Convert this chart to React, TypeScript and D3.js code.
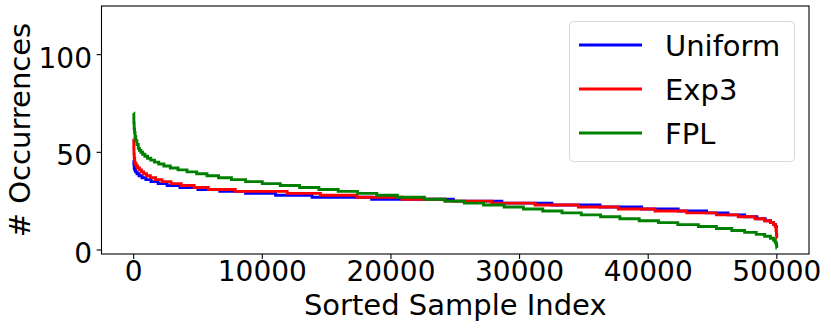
import React, { useEffect, useRef } from 'react';
import * as d3 from 'd3';

// [start index, occurrence count]
const uniformSteps: [number, number][] = [
  [0, 46], [15, 44], [40, 42], [80, 41], [150, 40], [260, 39], [420, 38], [650, 37],
  [950, 36], [1350, 35], [1900, 34], [2600, 33], [3600, 32], [5000, 31], [6700, 30],
  [8700, 29], [11030, 28], [13870, 27], [18500, 26], [24850, 25], [28620, 24],
  [32510, 23], [36250, 22], [39490, 21], [42330, 20], [44540, 19], [46200, 18],
  [47500, 17], [48450, 16], [49100, 15], [49500, 14], [49750, 13], [49900, 12], [49970, 11],
];

const exp3Steps: [number, number][] = [
  [0, 57], [10, 52], [25, 49], [45, 47], [80, 45], [120, 44], [200, 43], [300, 42],
  [450, 41], [600, 40], [780, 39], [1000, 38], [1300, 37], [1700, 36], [2200, 35],
  [2900, 34], [3700, 33], [4700, 32], [5800, 31], [7900, 30], [11930, 29], [14520, 28],
  [17370, 27], [20860, 26], [24200, 25], [27850, 24], [31210, 23], [34570, 22],
  [37680, 21], [40530, 20], [43000, 19], [45300, 18], [47000, 17], [48300, 16],
  [49050, 15], [49500, 14], [49750, 13], [49880, 12], [49940, 10], [49970, 8], [49990, 6],
];

const fplSteps: [number, number][] = [
  [0, 70], [15, 65], [40, 62], [70, 60], [110, 58], [170, 56], [250, 54], [360, 52],
  [450, 51], [560, 50], [700, 49], [870, 48], [1080, 47], [1330, 46], [1620, 45],
  [1950, 44], [2350, 43], [2850, 42], [3450, 41], [4150, 40], [4900, 39], [5700, 38],
  [6600, 37], [7600, 36], [8700, 35], [10000, 34], [11400, 33], [12900, 32], [14400, 31],
  [15900, 30], [17400, 29], [18900, 28], [20500, 27], [22600, 26], [24200, 25],
  [25700, 24], [27200, 23], [28800, 22], [30300, 21], [31800, 20], [33300, 19],
  [34800, 18], [36300, 17], [37800, 16], [39300, 15], [40800, 14], [42300, 13],
  [43900, 12], [45300, 11], [46500, 10], [47500, 9], [48400, 8], [49050, 7], [49500, 6],
  [49750, 5], [49880, 4], [49950, 3], [49985, 2], [49996, 1],
];

const seriesNames = ['Uniform', 'Exp3', 'FPL'];
const seriesColors = ['#0000ff', '#ff0000', '#008000'];
const xTicks = [0, 10000, 20000, 30000, 40000, 50000];
const yTicks = [0, 50, 100];
const lastIndex = 50000;

export default function App() {
  const svgRef = useRef<SVGSVGElement>(null);

  useEffect(() => {
    const svg = d3.select(svgRef.current);
    svg.selectAll('*').remove();

    const left = 101.5, right = 809, top = 6, bottom = 254;
    const x = d3.scaleLinear().domain([-2500, 52500]).range([left, right]);
    const y = d3.scaleLinear().domain([-2.05, 124.9]).range([bottom, top]);
    const font = 'DejaVu Sans, sans-serif';

    const line = d3.line<[number, number]>()
      .x(d => x(d[0]))
      .y(d => y(d[1]))
      .curve(d3.curveStepAfter);

    svg.append('clipPath').attr('id', 'plot-clip')
      .append('rect').attr('x', left).attr('y', top)
      .attr('width', right - left).attr('height', bottom - top);

    const plot = svg.append('g').attr('clip-path', 'url(#plot-clip)');
    [uniformSteps, exp3Steps, fplSteps].forEach((steps, i) => {
      const pts: [number, number][] = [...steps, [lastIndex, steps[steps.length - 1][1]]];
      plot.append('path')
        .attr('d', line(pts))
        .attr('fill', 'none')
        .attr('stroke', seriesColors[i])
        .attr('stroke-width', 2.9);
    });

    // frame
    svg.append('rect')
      .attr('x', left).attr('y', top)
      .attr('width', right - left).attr('height', bottom - top)
      .attr('fill', 'none').attr('stroke', '#000').attr('stroke-width', 1.1);

    // x ticks
    const xg = svg.append('g');
    xTicks.forEach(t => {
      xg.append('line').attr('x1', x(t)).attr('x2', x(t))
        .attr('y1', bottom).attr('y2', bottom + 4.9)
        .attr('stroke', '#000').attr('stroke-width', 1.1);
      xg.append('text').attr('x', x(t)).attr('y', bottom + 27)
        .attr('text-anchor', 'middle')
        .style('font-family', font).style('font-size', '28px')
        .text(String(t));
    });

    // y ticks
    const yg = svg.append('g');
    yTicks.forEach(t => {
      yg.append('line').attr('x1', left - 4.9).attr('x2', left)
        .attr('y1', y(t)).attr('y2', y(t))
        .attr('stroke', '#000').attr('stroke-width', 1.1);
      yg.append('text').attr('x', left - 9.5).attr('y', y(t) + 13)
        .attr('text-anchor', 'end')
        .style('font-family', font).style('font-size', '28px')
        .text(String(t));
    });

    svg.append('text')
      .attr('x', (left + right) / 2).attr('y', 315)
      .attr('text-anchor', 'middle')
      .style('font-family', font).style('font-size', '29px')
      .text('Sorted Sample Index');

    svg.append('text')
      .attr('transform', `translate(30,${(top + bottom) / 2}) rotate(-90)`)
      .attr('text-anchor', 'middle')
      .style('font-family', font).style('font-size', '29px')
      .text('# Occurrences');

    // legend
    const lg = svg.append('g');
    lg.append('rect')
      .attr('x', 569.5).attr('y', 21.5).attr('width', 225).attr('height', 140)
      .attr('rx', 4).attr('fill', '#fff').attr('fill-opacity', 0.8)
      .attr('stroke', '#d9d9d9').attr('stroke-width', 1);
    seriesNames.forEach((name, i) => {
      const ly = 45 + i * 44;
      lg.append('line').attr('x1', 579).attr('x2', 642)
        .attr('y1', ly).attr('y2', ly)
        .attr('stroke', seriesColors[i]).attr('stroke-width', 2.9);
      lg.append('text').attr('x', 665).attr('y', ly + 10.5)
        .style('font-family', font).style('font-size', '29px')
        .text(name);
    });
  }, []);

  return (
    <svg
      ref={svgRef}
      width={831}
      height={328}
      style={{ position: 'absolute', left: 0, top: 0, background: '#fff' }}
    />
  );
}
